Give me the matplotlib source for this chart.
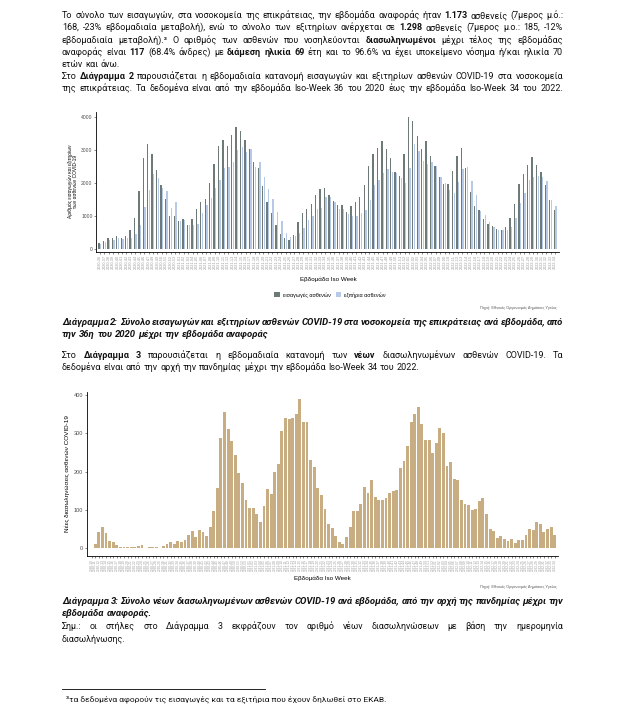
import matplotlib
matplotlib.use("Agg")
import matplotlib.pyplot as plt
import numpy as np

W, H = 629, 717

# ---------------- data ----------------
weeks1 = [f"2020-{w:02d}" for w in range(36, 54)] + \
         [f"2021-{w:02d}" for w in range(1, 53)] + \
         [f"2022-{w:02d}" for w in range(1, 35)]

admissions = [200, 250, 330, 330, 390, 350, 390, 570, 940, 1760, 2750, 3175, 2875, 2390,
              1940, 1520, 1000, 1000, 855, 915, 745, 915, 1215, 1430, 1520, 2010, 2575,
              3115, 3295, 3115, 3450, 3690, 3570, 3295, 3025, 2635, 2450, 1910, 1440, 1105,
              735, 470, 350, 280, 430, 825, 1105, 1215, 1380, 1640, 1820, 1850,
              1640, 1460, 1340, 1340, 1125, 1305, 1430, 1580, 1940, 2510, 2875, 3055, 3265,
              3025, 2750, 2330, 2210, 2875, 3990, 3870, 3420, 3025, 3265, 2815, 2510, 2180,
              1980, 1960, 2350, 2815, 3055, 2460, 1720, 1305, 1185, 915, 765, 705, 615, 585,
              675, 945, 1365, 1970, 2280, 2540, 2785, 2540, 2340, 1940, 1500, 1175]
discharges = [170, 210, 280, 280, 350, 310, 330, 350, 470, 730, 1280, 1780, 2270, 2160,
              1840, 1760, 1260, 1440, 855, 885, 730, 720, 760, 1085, 1340, 1540, 1840,
              2090, 2440, 2490, 2640, 2995, 3095, 2945, 3025, 2485, 2620, 2190, 1820, 1520,
              1135, 865, 490, 380, 400, 480, 630, 885, 1015, 1205, 1260, 1590,
              1590, 1430, 1215, 1215, 1055, 1005, 1005, 1105, 1185, 1490, 1940, 2090, 2290,
              2410, 2340, 2310, 2160, 2010, 2460, 3175, 2975, 2660, 2560, 2630, 2510, 2180,
              1990, 1790, 1690, 2020, 2410, 2490, 2060, 1640, 1155, 1035, 815, 685, 585, 585,
              575, 675, 935, 1390, 1690, 2090, 2190, 2210, 2190, 2060, 1480, 1305]

weeks3 = [f"2020-{w:02d}" for w in range(10, 54)] + \
         [f"2021-{w:02d}" for w in range(1, 53)] + \
         [f"2022-{w:02d}" for w in range(1, 35)]

intubations = [2, 11, 42, 57, 41, 18, 17, 9, 4, 4, 4, 3, 3, 6, 9, 2, 4, 4, 4, 2,
               7, 11, 16, 11, 18, 17, 22, 35, 45, 30, 48, 42, 33, 57, 97, 157, 288, 357,
               311, 280, 243, 197, 170, 126, 106, 106, 90, 70, 110, 155, 142, 200, 220,
               307, 340, 338, 340, 350, 390, 330, 330, 230, 212, 158,
               139, 103, 63, 53, 32, 16, 11, 30, 56, 97, 97, 116, 159, 144, 178, 134,
               127, 127, 131, 144, 150, 152, 210, 228, 267, 329, 350, 369, 324, 283, 283,
               249, 275, 313, 301, 214, 225, 181, 178, 126, 117, 114, 100, 103, 123, 131,
               90, 50, 45, 27, 32, 24, 19, 24, 14, 21, 21, 35, 50, 48, 68, 63, 43, 50,
               56, 35]

yticks1 = [0, 1000, 2000, 3000, 4000]
yticks3 = [0, 100, 200, 300, 400]

DARK = "#6d7a78"
LIGHT = "#b6c9e6"
TAN = "#c9ad82"

# ---------------- figure ----------------
fig = plt.figure(figsize=(W / 100, H / 100), dpi=100)
fig.patch.set_facecolor("white")
renderer = fig.canvas.get_renderer()

BODY = ["Roboto", "DejaVu Sans"]
CHART = ["Liberation Sans", "DejaVu Sans"]


def fx(x):
    return x / W


def fy(y):
    return 1 - y / H


def calibrate(s, target, weight="normal", style="normal"):
    t = fig.text(0, 0, s, fontsize=10, family=BODY, fontweight=weight, style=style)
    w = t.get_window_extent(renderer).width
    t.remove()
    return 10 * target / w


def parse(line):
    parts = line.split("**")
    words = []
    for i, p in enumerate(parts):
        b = (i % 2 == 1)
        for w in p.split(" "):
            if w:
                words.append((w, b))
    return words


def measure(words, size, style="normal", allbold=False):
    texts, widths = [], []
    for w, b in words:
        t = fig.text(0, 0, w, fontsize=size, family=BODY, style=style,
                     fontweight="bold" if (b or allbold) else "normal",
                     va="baseline", ha="left", color="#111111")
        texts.append(t)
        widths.append(t.get_window_extent(renderer).width)
    p1 = fig.text(0, 0, "x x", fontsize=size, family=BODY)
    p2 = fig.text(0, 0, "xx", fontsize=size, family=BODY)
    sp = p1.get_window_extent(renderer).width - p2.get_window_extent(renderer).width
    p1.remove(); p2.remove()
    return texts, widths, sp


def natural_width(line, size, style="normal", allbold=False):
    words = parse(line)
    texts, widths, sp = measure(words, size, style, allbold)
    for t in texts:
        t.remove()
    return sum(widths) + sp * 1.15 * (len(words) - 1)


def fit_size(lines, target=501, style="normal", allbold=False):
    sizes = []
    for ln in lines:
        nw = natural_width(ln, 10, style, allbold)
        sizes.append(10 * target / nw)
    return min(sizes)


def draw_line(line, y, size, x0=62, x1=563, justify=True, style="normal", allbold=False):
    words = parse(line)
    texts, widths, sp = measure(words, size, style, allbold)
    if justify and len(words) > 1:
        gap = (x1 - x0 - sum(widths)) / (len(words) - 1)
    else:
        gap = sp
    x = x0
    for t, wd in zip(texts, widths):
        t.set_position((fx(x), fy(y + 3)))
        x += wd + gap


# ---------------- paragraph 1 ----------------
p1 = [
    ("Το σύνολο των εισαγωγών, στα νοσοκομεία της επικράτειας, την εβδομάδα αναφοράς ήταν **1.173** ασθενείς (7μερος μ.ό.:", True),
    ("168, -23% εβδομαδιαία μεταβολή), ενώ το σύνολο των εξιτηρίων ανέρχεται σε **1.298** ασθενείς (7μερος μ.ο.: 185, -12%", True),
    ("εβδομαδιαία μεταβολή).³ Ο αριθμός των ασθενών που νοσηλεύονται **διασωληνωμένοι** μέχρι τέλος της εβδομάδας", True),
    ("αναφοράς είναι **117** (68.4% άνδρες) με **διάμεση ηλικία 69** έτη και το 96.6% να έχει υποκείμενο νόσημα ή/και ηλικία 70", True),
    ("ετών και άνω.", False),
    ("Στο **Διάγραμμα 2** παρουσιάζεται η εβδομαδιαία κατανομή εισαγωγών και εξιτηρίων ασθενών COVID-19 στα νοσοκομεία", True),
    ("της επικράτειας. Τα δεδομένα είναι από την εβδομάδα Iso-Week 36 του 2020 έως την εβδομάδα Iso-Week 34 του 2022.", True),
]
BODY_SIZE = fit_size([ln for ln, j in p1 if j])
CAP_SIZE = calibrate("την 36η του 2020 μέχρι την εβδομάδα αναφοράς", 206, "bold", "italic")
NOTE_SIZE = calibrate("διασωλήνωσης.", 64)
FOOT_SIZE = calibrate("³τα δεδομένα αφορούν τις εισαγωγές και τα εξιτήρια που έχουν δηλωθεί στο ΕΚΑΒ.", 319)

ys1 = [15, 27, 40, 52, 64, 76, 88]
for (ln, j), y in zip(p1, ys1):
    draw_line(ln, y, BODY_SIZE, justify=j)

# ---------------- chart 1 ----------------
ax1 = fig.add_axes([fx(96), fy(251.6), (559 - 96) / W, (251.6 - 111.7) / H])
x1 = np.arange(len(admissions))
ax1.bar(x1 - 0.19, admissions, width=0.3, color=DARK, label="εισαγωγές ασθενών")
ax1.bar(x1 + 0.19, discharges, width=0.3, color=LIGHT, label="εξιτήρια ασθενών")
ax1.set_xlim(-0.9, len(admissions) - 0.1)
ax1.set_ylim(-70, 4150)
ax1.set_yticks(yticks1)
ax1.set_yticklabels([str(v) for v in yticks1], fontsize=3.6, family=CHART)
ax1.set_xticks(x1)
ax1.set_xticklabels(weeks1, rotation=90, fontsize=2.8, family=CHART)
ax1.set_ylabel("Αριθμός εισαγωγών και εξιτηρίων\nτων ασθενών COVID-19", fontsize=3.5,
               family=CHART, labelpad=2, linespacing=1.0)
for s in ["top", "right"]:
    ax1.spines[s].set_visible(False)
for s in ["left", "bottom"]:
    ax1.spines[s].set_linewidth(0.6)
ax1.tick_params(length=1.5, width=0.4, pad=1, colors="#333333")
ax1.tick_params(axis="x", labelcolor="#9a9a9a")
ax1.tick_params(axis="y", labelcolor="#4d4d4d")
fig.text(fx(328), fy(279), "Εβδομάδα Iso Week", fontsize=4.5, family=CHART,
         ha="center", va="center")
leg = fig.legend(*ax1.get_legend_handles_labels(), loc="center",
                 bbox_to_anchor=(fx(330), fy(295)), ncol=2, frameon=False,
                 prop={"family": CHART, "size": 3.9}, handlelength=1.0, handleheight=1.0,
                 handletextpad=0.5, columnspacing=1.0)
fig.text(fx(557), fy(308), "Πηγή: Εθνικός Οργανισμός Δημόσιας Υγείας", fontsize=2.8,
         family=CHART, ha="right", va="center", color="#555555")

# ---------------- caption 2 ----------------
draw_line("Διάγραμμα 2: Σύνολο εισαγωγών και εξιτηρίων ασθενών COVID-19 στα νοσοκομεία της επικράτειας ανά εβδομάδα, από",
          322, CAP_SIZE, style="italic", allbold=True)
draw_line("την 36η του 2020 μέχρι την εβδομάδα αναφοράς", 334, CAP_SIZE, style="italic", allbold=True, justify=False)

# ---------------- paragraph 2 ----------------
draw_line("Στο **Διάγραμμα 3** παρουσιάζεται η εβδομαδιαία κατανομή των **νέων** διασωληνωμένων ασθενών COVID-19.  Τα", 355, BODY_SIZE)
draw_line("δεδομένα είναι από την αρχή την πανδημίας μέχρι την εβδομάδα Iso-Week 34 του 2022.", 367, BODY_SIZE, justify=False)

# ---------------- chart 3 ----------------
ax3 = fig.add_axes([fx(86.7), fy(555.8), (558 - 86.7) / W, (555.8 - 391.5) / H])
x3 = np.arange(len(intubations))
ax3.bar(x3, intubations, width=0.8, color=TAN)
ax3.set_xlim(-1.39, len(intubations) - 0.08)
ax3.set_ylim(-19.5, 409.5)
ax3.set_yticks(yticks3)
ax3.set_yticklabels([str(v) for v in yticks3], fontsize=4.0, family=CHART)
ax3.set_xticks(x3)
ax3.set_xticklabels(weeks3, rotation=90, fontsize=2.3, family=CHART)
ax3.set_ylabel("Νέες διασωληνώσεις ασθενών COVID-19", fontsize=4.6, family=CHART, labelpad=3)
for s in ["top", "right"]:
    ax3.spines[s].set_visible(False)
for s in ["left", "bottom"]:
    ax3.spines[s].set_linewidth(0.6)
ax3.tick_params(length=1.5, width=0.4, pad=1, colors="#333333")
ax3.tick_params(axis="x", labelcolor="#9a9a9a")
ax3.tick_params(axis="y", labelcolor="#4d4d4d")
fig.text(fx(322), fy(578), "Εβδομάδα Iso Week", fontsize=4.5, family=CHART,
         ha="center", va="center")
fig.text(fx(557), fy(587), "Πηγή: Εθνικός Οργανισμός Δημόσιας Υγείας", fontsize=2.8,
         family=CHART, ha="right", va="center", color="#555555")

# ---------------- caption 3 ----------------
draw_line("Διάγραμμα 3: Σύνολο νέων διασωληνωμένων ασθενών COVID-19 ανά εβδομάδα, από την αρχή της πανδημίας μέχρι την",
          601, CAP_SIZE, style="italic", allbold=True)
draw_line("εβδομάδα αναφοράς.", 613, CAP_SIZE, style="italic", allbold=True, justify=False)
draw_line("Σημ.: οι στήλες στο Διάγραμμα 3 εκφράζουν τον αριθμό νέων διασωληνώσεων με βάση την ημερομηνία", 626, NOTE_SIZE)
draw_line("διασωλήνωσης.", 639, NOTE_SIZE, justify=False)

# ---------------- footnote ----------------
fig.add_artist(plt.Line2D([fx(62), fx(265)], [fy(689), fy(689)], color="black", lw=0.6))
fig.text(fx(66), fy(701), "³τα δεδομένα αφορούν τις εισαγωγές και τα εξιτήρια που έχουν δηλωθεί στο ΕΚΑΒ.",
         fontsize=FOOT_SIZE, family=BODY, ha="left", va="baseline", color="#111111")

fig.savefig("out.png", dpi=100, facecolor="white")
